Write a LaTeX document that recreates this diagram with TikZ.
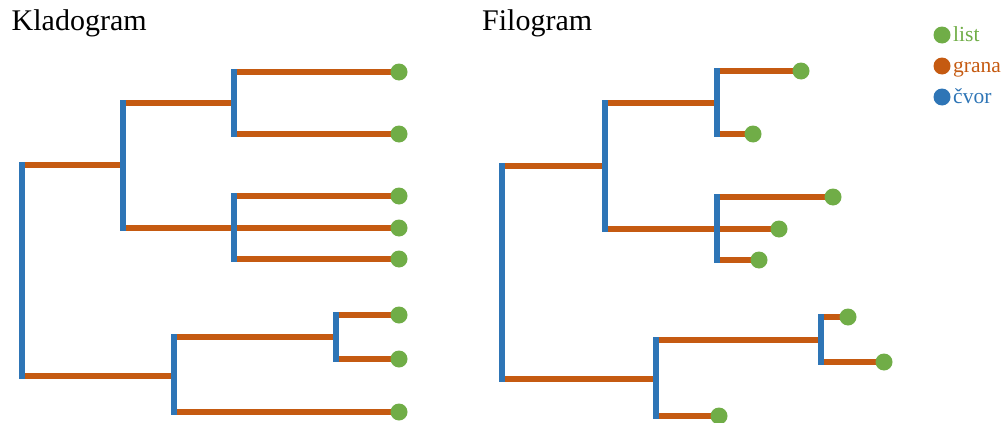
\documentclass[tikz,border=0pt]{standalone}
\usepackage{fontspec}
\setmainfont{Liberation Serif}
\definecolor{listc}{HTML}{70AD47}
\definecolor{granac}{HTML}{C55A11}
\definecolor{cvorc}{HTML}{2E75B6}
\pgfdeclarelayer{grane}
\pgfdeclarelayer{cvorovi}
\pgfsetlayers{grane,cvorovi,main}

\begin{document}
\begin{tikzpicture}
[x=1pt, y=-1pt,
 every node/.style={inner sep=0pt},
 list/.style={circle, minimum size=17pt, fill=listc},
 grana/.style={line width=6.5pt, color=granac},
 cvor/.style={line width=6.5pt, color=cvorc, line cap=rect},
 naslov/.style={anchor=base west, font=\fontsize{30}{36}\selectfont},
 legenda/.style={anchor=base west, font=\fontsize{21.5}{25}\selectfont}]
\useasboundingbox (0,0) rectangle (1004,423);

% kladogram
\node (tk) [naslov] at (11.5, 30) {Kladogram};
\coordinate (K0) at (22, 270);
\coordinate (KA) at (123, 165);
\coordinate (KB) at (234, 103);
\coordinate (KC) at (234, 228);
\coordinate (KD) at (174, 376);
\coordinate (KE) at (336, 337);
\node (K1) [list] at (399, 72) {};
\node (K2) [list] at (399, 134) {};
\node (K3) [list] at (399, 196) {};
\node (K4) [list] at (399, 228) {};
\node (K5) [list] at (399, 259) {};
\node (K6) [list] at (399, 315) {};
\node (K7) [list] at (399, 359) {};
\node (K8) [list] at (399, 412) {};
\begin{pgfonlayer}{grane}
\draw [grana] (K0 |- KA) to (KA);
\draw [grana] (K0 |- KD) to (KD);
\draw [grana] (KA |- KB) to (KB);
\draw [grana] (KA |- KC) to (KC);
\draw [grana] (KB |- K1) to (K1.center);
\draw [grana] (KB |- K2) to (K2.center);
\draw [grana] (KC |- K3) to (K3.center);
\draw [grana] (KC |- K4) to (K4.center);
\draw [grana] (KC |- K5) to (K5.center);
\draw [grana] (KD |- KE) to (KE);
\draw [grana] (KD |- K8) to (K8.center);
\draw [grana] (KE |- K6) to (K6.center);
\draw [grana] (KE |- K7) to (K7.center);
\end{pgfonlayer}
\begin{pgfonlayer}{cvorovi}
\draw [cvor] (K0 |- KA) to (K0 |- KD);
\draw [cvor] (KA |- KB) to (KA |- KC);
\draw [cvor] (KB |- K1) to (KB |- K2);
\draw [cvor] (KC |- K3) to (KC |- K5);
\draw [cvor] (KD |- KE) to (KD |- K8);
\draw [cvor] (KE |- K6) to (KE |- K7);
\end{pgfonlayer}

% filogram
\node (tf) [naslov] at (482, 30) {Filogram};
\coordinate (F0) at (502, 270);
\coordinate (FA) at (605, 166);
\coordinate (FB) at (717, 103);
\coordinate (FC) at (717, 229);
\coordinate (FD) at (656, 379);
\coordinate (FE) at (821, 340);
\node (F1) [list] at (801, 71) {};
\node (F2) [list] at (753, 134) {};
\node (F3) [list] at (833, 197) {};
\node (F4) [list] at (779, 229) {};
\node (F5) [list] at (759, 260) {};
\node (F6) [list] at (848, 317) {};
\node (F7) [list] at (884, 362) {};
\node (F8) [list] at (719, 416) {};
\begin{pgfonlayer}{grane}
\draw [grana] (F0 |- FA) to (FA);
\draw [grana] (F0 |- FD) to (FD);
\draw [grana] (FA |- FB) to (FB);
\draw [grana] (FA |- FC) to (FC);
\draw [grana] (FB |- F1) to (F1.center);
\draw [grana] (FB |- F2) to (F2.center);
\draw [grana] (FC |- F3) to (F3.center);
\draw [grana] (FC |- F4) to (F4.center);
\draw [grana] (FC |- F5) to (F5.center);
\draw [grana] (FD |- FE) to (FE);
\draw [grana] (FD |- F8) to (F8.center);
\draw [grana] (FE |- F6) to (F6.center);
\draw [grana] (FE |- F7) to (F7.center);
\end{pgfonlayer}
\begin{pgfonlayer}{cvorovi}
\draw [cvor] (F0 |- FA) to (F0 |- FD);
\draw [cvor] (FA |- FB) to (FA |- FC);
\draw [cvor] (FB |- F1) to (FB |- F2);
\draw [cvor] (FC |- F3) to (FC |- F5);
\draw [cvor] (FD |- FE) to (FD |- F8);
\draw [cvor] (FE |- F6) to (FE |- F7);
\end{pgfonlayer}

% legenda
\node (ll) [list] at (942, 35) {};
\node (lg) [list, fill=granac] at (942, 66) {};
\node (lc) [list, fill=cvorc] at (942, 97) {};
\node [legenda, text=listc] at (953, 41) {list};
\node [legenda, text=granac] at (953, 72) {grana};
\node [legenda, text=cvorc] at (953, 103) {čvor};

\end{tikzpicture}
\end{document}
